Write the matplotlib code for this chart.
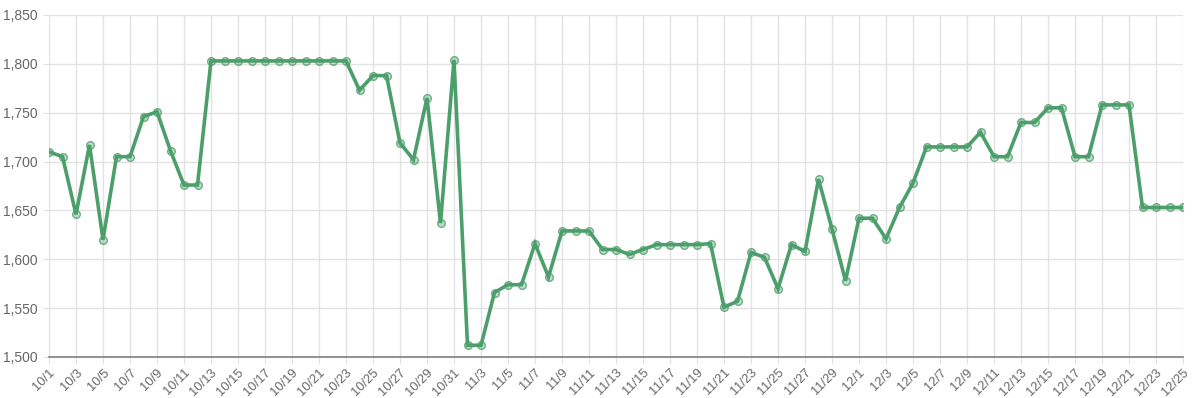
import matplotlib
matplotlib.use("Agg")
import matplotlib.pyplot as plt
from matplotlib.ticker import FuncFormatter

# dates shown on the x axis (11/1 is missing in the source data)
dates = ([f"10/{d}" for d in range(1, 32)] + ["11/2"]
         + [f"11/{d}" for d in range(3, 31)]
         + [f"12/{d}" for d in range(1, 26)])

oct_vals = [1710, 1705, 1646, 1717, 1620, 1705, 1705, 1746, 1751, 1711, 1676, 1676,
            1803, 1803, 1803, 1803, 1803, 1803, 1803, 1803, 1803, 1803, 1803,
            1773, 1788, 1788, 1719, 1702, 1765, 1637, 1804]
nov_vals = [1512,
            1512, 1566, 1574, 1574, 1616, 1582, 1629, 1629, 1629, 1610, 1610, 1605,
            1610, 1615, 1615, 1615, 1615, 1616, 1551, 1557, 1607, 1602, 1570, 1615,
            1608, 1682, 1631, 1578]
dec_vals = [1642, 1642, 1621, 1653, 1678, 1715, 1715, 1715, 1715, 1730, 1705, 1705,
            1740, 1740, 1755, 1755, 1705, 1705, 1758, 1758, 1758, 1653, 1653, 1653, 1653]

values = oct_vals + nov_vals + dec_vals
x = list(range(len(dates)))

plt.rcParams['font.family'] = ['Liberation Sans', 'DejaVu Sans']

fig = plt.figure(figsize=(12, 3.98), dpi=100)
ax = fig.add_axes([49 / 1200, 1 - 357 / 398, (1183 - 49) / 1200, (357 - 15) / 398])

green = '#4c9e6b'
ax.plot(x, values, color=green, linewidth=2.6, solid_joinstyle='miter',
        marker='o', markersize=5.5, markerfacecolor=(0.30, 0.62, 0.42, 0.35),
        markeredgecolor=(0.30, 0.62, 0.42, 0.8), markeredgewidth=1.0, zorder=3)

ax.set_xlim(0, len(dates) - 1)
ax.set_ylim(1500, 1850)
ax.set_yticks(range(1500, 1851, 50))
ax.yaxis.set_major_formatter(FuncFormatter(lambda v, p: f"{int(v):,}"))
ax.set_xticks(x[::2])
ax.set_xticklabels(dates[::2], rotation=45, ha='right', rotation_mode='anchor')

ax.grid(True, color='#e2e2e2', linewidth=1)
ax.set_axisbelow(True)
for s in ['top', 'right', 'left']:
    ax.spines[s].set_visible(False)
ax.spines['bottom'].set_color('#888888')
ax.spines['bottom'].set_linewidth(1.3)
ax.tick_params(axis='both', colors='#e2e2e2', labelcolor='#666666')
ax.tick_params(axis='x', length=5, pad=2, labelsize=9.3)
ax.tick_params(axis='y', length=4, pad=4, labelsize=10)

plt.savefig("out.png", dpi=100)
